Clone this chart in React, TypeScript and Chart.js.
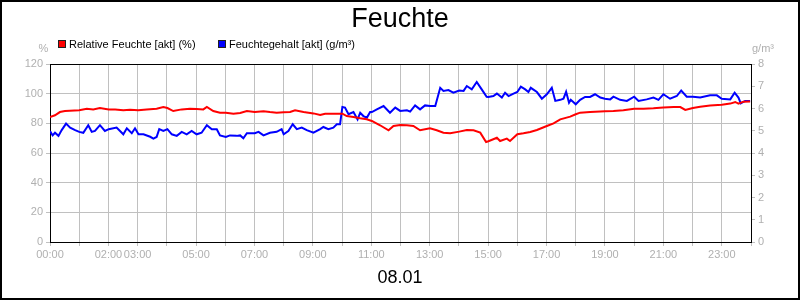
import React, { useEffect, useRef } from "react";
import { Chart, registerables } from "chart.js";

Chart.register(...registerables);

const chartTitle = "Feuchte";
const dateLabel = "08.01";
const rhLabel = "Relative Feuchte [akt] (%)";
const ahLabel = "Feuchtegehalt [akt] (g/m³)";
const leftUnit = "%";
const rightUnit = "g/m³";

const hourLabels = [
  "00:00", "", "02:00", "03:00", "", "05:00", "", "07:00", "", "09:00", "", "11:00", "",
  "13:00", "", "15:00", "", "17:00", "", "19:00", "", "21:00", "", "23:00", "",
];

const rhHours = [
  0, 0.17, 0.34, 0.51, 0.68, 1.0, 1.26, 1.48, 1.71, 2.01, 2.23, 2.51, 2.74, 3.02, 3.31,
  3.65, 3.88, 4.02, 4.22, 4.51, 4.79, 5.02, 5.25, 5.37, 5.59, 5.82, 6.02, 6.28, 6.51, 6.74,
  7.01, 7.31, 7.53, 7.76, 8.0, 8.22, 8.39, 8.68, 9.02, 9.25, 9.42, 9.7, 10.01, 10.16, 10.39,
  10.62, 10.84, 11.02, 11.3, 11.59, 11.76, 11.99,
  12.22, 12.44, 12.67, 13.01, 13.24, 13.47, 13.7, 14.01, 14.27, 14.5, 14.73, 14.93, 15.01,
  15.3, 15.41, 15.64, 15.75, 16.0, 16.21, 16.44, 16.67, 17.01, 17.24, 17.47, 17.81, 18.0,
  18.15, 18.49, 18.84, 19.0, 19.29, 19.63, 20.0, 20.32, 20.66, 21.0, 21.35, 21.58, 21.75,
  22.01, 22.26, 22.6, 23.0, 23.29, 23.46, 23.57, 23.74, 23.97,
];

const rhValues = [
  84.3, 85.4, 87.6, 88.3, 88.5, 88.8, 89.9, 89.4, 90.3, 89.4, 89.4, 88.8, 89.2, 88.8, 89.4,
  89.9, 91.0, 90.3, 88.3, 89.4, 89.9, 89.7, 89.4, 91.0, 88.3, 87.2, 87.2, 86.5, 87.0, 88.3,
  87.6, 88.1, 87.6, 87.2, 87.4, 87.6, 88.8, 87.6, 86.7, 85.6, 86.5, 86.5, 86.5, 84.9, 84.3,
  83.4, 82.7, 81.6, 78.7, 75.3, 78.2, 78.9,
  78.7, 78.2, 75.3, 76.6, 75.3, 73.7, 73.3, 74.4, 75.5, 75.3, 73.7, 67.4, 67.9, 70.3, 68.1,
  69.7, 68.1, 72.6, 73.3, 74.2, 75.5, 78.2, 80.0, 82.7, 84.5, 86.1, 87.2, 87.6, 87.9, 88.1,
  88.3, 88.8, 89.9, 89.9, 90.1, 90.6, 91.0, 91.0, 89.0, 90.3, 91.2, 92.1, 92.6, 93.3, 94.4,
  93.3, 94.6, 94.8,
];

const ahHours = [
  0, 0.09, 0.17, 0.29, 0.4, 0.55, 0.69, 0.86, 1.0, 1.14, 1.31, 1.43, 1.54, 1.71, 1.88, 2.01,
  2.28, 2.51, 2.63, 2.8, 2.91, 3.03, 3.2, 3.43, 3.54, 3.65, 3.74, 3.88, 4.02, 4.17, 4.34,
  4.51, 4.68, 4.85, 5.02, 5.19, 5.37, 5.54, 5.71, 5.82, 6.02, 6.16, 6.39, 6.51, 6.62, 6.74,
  7.01, 7.14, 7.31, 7.53, 7.76, 7.93, 8.0, 8.16, 8.31, 8.45, 8.62, 8.79, 9.02, 9.25, 9.36,
  9.53, 9.7, 9.82, 9.93, 10.01, 10.1, 10.22, 10.39, 10.53, 10.62, 10.73, 10.85, 10.96,
  11.02, 11.19, 11.42, 11.64, 11.82, 11.99,
  12.22, 12.33, 12.5, 12.67, 12.84, 13.01, 13.19, 13.36, 13.47, 13.64, 13.81, 14.01, 14.16,
  14.27, 14.44, 14.61, 14.78, 14.95, 15.01, 15.18, 15.3, 15.47, 15.58, 15.7, 15.87, 16.0,
  16.12, 16.27, 16.38, 16.46, 16.67, 16.84, 17.01, 17.18, 17.3, 17.47, 17.58, 17.67, 17.77,
  17.83, 18.0, 18.15, 18.32, 18.49, 18.66, 18.84, 19.0, 19.18, 19.29, 19.52, 19.75, 20.0,
  20.15, 20.43, 20.66, 20.83, 21.0, 21.23, 21.46, 21.61, 21.8, 22.01, 22.26, 22.6, 22.83,
  23.0, 23.29, 23.44, 23.57, 23.65, 23.8, 23.97,
];

const ahValues = [
  4.99, 4.79, 4.91, 4.77, 5.03, 5.32, 5.14, 5.03, 4.95, 4.91, 5.25, 4.95, 4.99, 5.25, 4.99,
  5.07, 5.14, 4.84, 5.11, 4.89, 5.11, 4.84, 4.84, 4.73, 4.65, 4.72, 5.07, 4.99, 5.07, 4.84,
  4.77, 4.95, 4.84, 4.99, 4.84, 4.91, 5.25, 5.07, 5.07, 4.79, 4.72, 4.79, 4.77, 4.79, 4.66,
  4.89, 4.89, 4.95, 4.79, 4.91, 4.95, 5.07, 4.84, 4.99, 5.29, 5.07, 5.14, 5.03, 4.91, 5.07,
  5.17, 5.07, 5.14, 5.29, 5.29, 6.07, 6.04, 5.74, 5.84, 5.51, 5.81, 5.66, 5.59, 5.84, 5.84,
  5.96, 6.11, 5.81, 6.04, 5.89,
  5.92, 5.86, 6.14, 5.96, 6.14, 6.11, 6.11, 6.93, 6.79, 6.83, 6.71, 6.81, 6.79, 7.01, 6.86,
  7.19, 6.86, 6.53, 6.52, 6.56, 6.67, 6.49, 6.71, 6.56, 6.67, 6.74, 6.98, 6.86, 6.74, 6.93,
  6.74, 6.44, 6.64, 6.93, 6.34, 6.39, 6.44, 6.75, 6.26, 6.39, 6.19, 6.39, 6.52, 6.52, 6.64,
  6.49, 6.44, 6.41, 6.53, 6.39, 6.34, 6.53, 6.34, 6.41, 6.49, 6.39, 6.64, 6.44, 6.56, 6.81,
  6.53, 6.53, 6.49, 6.59, 6.59, 6.44, 6.41, 6.71, 6.49, 6.23, 6.34, 6.34,
];

const FONT = '"Liberation Sans", Arial, sans-serif';
const GRID = "#c0c0c0";
const TICK_TEXT = "#b0b0b0";

const decorPlugin = {
  id: "decor",
  afterDraw(chart: any) {
    const ctx = chart.ctx as CanvasRenderingContext2D;
    const a = chart.chartArea;
    ctx.save();
    // top frame line
    ctx.strokeStyle = "#000";
    ctx.lineWidth = 1;
    ctx.beginPath();
    ctx.moveTo(a.left, Math.round(a.top) + 0.5);
    ctx.lineTo(a.right + 1, Math.round(a.top) + 0.5);
    ctx.stroke();

    // title
    ctx.fillStyle = "#000";
    ctx.font = `27px ${FONT}`;
    ctx.textAlign = "center";
    ctx.textBaseline = "alphabetic";
    ctx.fillText(chartTitle, 400, 27);

    // legend
    ctx.font = `11px ${FONT}`;
    ctx.textAlign = "left";
    const items = [
      { x: 58, color: "#ff0000", label: rhLabel },
      { x: 218, color: "#0000ff", label: ahLabel },
    ];
    for (const it of items) {
      ctx.fillStyle = it.color;
      ctx.fillRect(it.x, 40, 8, 8);
      ctx.strokeStyle = "#202020";
      ctx.lineWidth = 1;
      ctx.strokeRect(it.x + 0.5, 40.5, 7, 7);
      ctx.fillStyle = "#000";
      ctx.fillText(it.label, it.x + 11, 48);
    }

    // units
    ctx.fillStyle = TICK_TEXT;
    ctx.textAlign = "center";
    ctx.fillText(leftUnit, 43.5, 52);
    ctx.textAlign = "left";
    ctx.fillText(rightUnit, 752, 52);

    // date
    ctx.fillStyle = "#000";
    ctx.font = `18px ${FONT}`;
    ctx.textAlign = "center";
    ctx.fillText(dateLabel, 400, 283);

    // outer border
    ctx.strokeStyle = "#000";
    ctx.lineWidth = 2;
    ctx.strokeRect(1, 1, 798, 298);
    ctx.restore();
  },
};

export default function App() {
  const ref = useRef<HTMLCanvasElement | null>(null);
  useEffect(() => {
    if (!ref.current) return;
    const chart = new Chart(ref.current, {
      type: "line",
      data: {
        datasets: [
          {
            label: rhLabel,
            data: rhHours.map((h, i) => ({ x: h, y: rhValues[i] })),
            borderColor: "#ff0000",
            backgroundColor: "#ff0000",
            borderWidth: 2,
            pointRadius: 0,
            tension: 0,
            yAxisID: "y",
          },
          {
            label: ahLabel,
            data: ahHours.map((h, i) => ({ x: h, y: ahValues[i] })),
            borderColor: "#0000ff",
            backgroundColor: "#0000ff",
            borderWidth: 2,
            pointRadius: 0,
            tension: 0,
            yAxisID: "y2",
          },
        ],
      },
      options: {
        animation: false,
        responsive: false,
        devicePixelRatio: 1,
        layout: { padding: { top: 64, left: 0, right: 0, bottom: 0 } },
        plugins: {
          legend: { display: false },
          title: { display: false },
          tooltip: { enabled: false },
        },
        scales: {
          x: {
            type: "linear",
            min: 0,
            max: 24,
            afterFit: (s: any) => {
              s.height = 58;
            },
            grid: { color: GRID, tickColor: GRID, tickLength: 4, lineWidth: 1 },
            border: { color: "#000", width: 1 },
            ticks: {
              stepSize: 1,
              autoSkip: false,
              maxRotation: 0,
              minRotation: 0,
              padding: 2,
              color: TICK_TEXT,
              font: { family: FONT, size: 11 },
              callback: (v: any) => hourLabels[Math.round(Number(v))] ?? "",
            },
          },
          y: {
            type: "linear",
            position: "left",
            min: 0,
            max: 120,
            afterFit: (s: any) => {
              s.width = 50;
            },
            grid: { color: GRID, tickColor: GRID, tickLength: 4, lineWidth: 1 },
            border: { color: "#000", width: 1 },
            ticks: {
              stepSize: 20,
              padding: 3,
              color: TICK_TEXT,
              font: { family: FONT, size: 11 },
            },
          },
          y2: {
            type: "linear",
            position: "right",
            min: 0,
            max: 8,
            afterFit: (s: any) => {
              s.width = 49;
            },
            grid: { drawOnChartArea: false, color: GRID, tickColor: GRID, tickLength: 4 },
            border: { color: "#000", width: 1 },
            ticks: {
              stepSize: 1,
              padding: 3,
              color: TICK_TEXT,
              font: { family: FONT, size: 11 },
            },
          },
        },
      },
      plugins: [decorPlugin],
    } as any);
    return () => chart.destroy();
  }, []);
  return (
    <div style={{ position: "absolute", left: 0, top: 0, width: 800, height: 300, background: "#fff" }}>
      <canvas ref={ref} width={800} height={300} style={{ display: "block", width: 800, height: 300 }} />
    </div>
  );
}
